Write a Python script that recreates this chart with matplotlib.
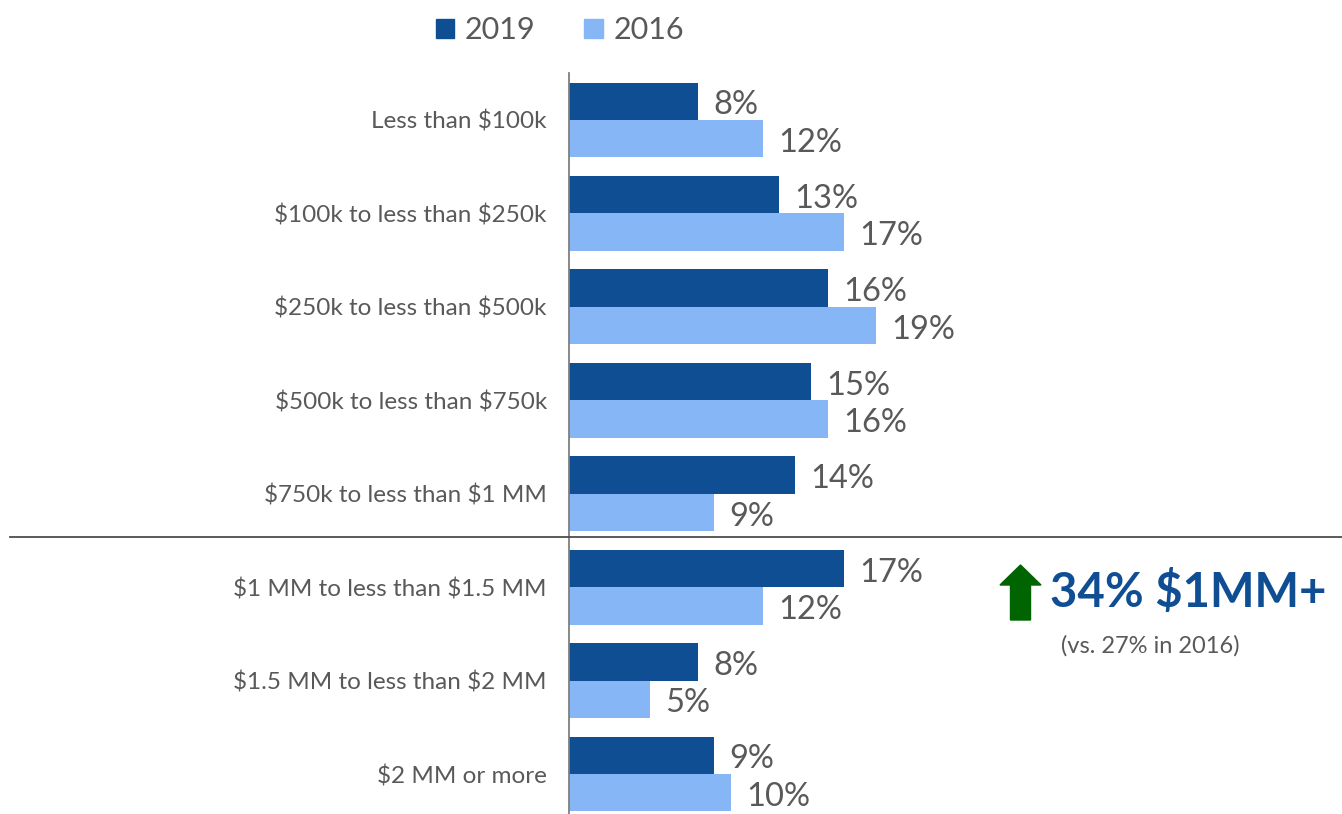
import matplotlib
matplotlib.use("Agg")
import matplotlib.pyplot as plt
from matplotlib.patches import Patch, FancyArrow
from matplotlib.lines import Line2D
import numpy as np

plt.rcParams['font.family'] = ['Lato', 'DejaVu Sans']
plt.rcParams['text.parse_math'] = False

categories = ["Less than $100k", "$100k to less than $250k", "$250k to less than $500k",
              "$500k to less than $750k", "$750k to less than $1 MM",
              "$1 MM to less than $1.5 MM", "$1.5 MM to less than $2 MM", "$2 MM or more"]
vals_2019 = [8, 13, 16, 15, 14, 17, 8, 9]
vals_2016 = [12, 17, 19, 16, 9, 12, 5, 10]
series_names = ["2019", "2016"]

c2019 = "#104E93"
c2016 = "#86B6F6"
grey = "#595959"

fig = plt.figure(figsize=(13.42, 8.14), dpi=100)
ax = fig.add_axes([569 / 1342, 0, 404 / 1342, 741 / 814])

y = np.arange(len(categories))
h = 0.4
ax.barh(y - h / 2, vals_2019, height=h, color=c2019)
ax.barh(y + h / 2, vals_2016, height=h, color=c2016)

for yi, v in zip(y - h / 2, vals_2019):
    ax.annotate(f"{v}%", (v, yi), xytext=(11, -3), textcoords="offset points",
                va="center", ha="left", fontsize=23.5, color=grey)
for yi, v in zip(y + h / 2, vals_2016):
    ax.annotate(f"{v}%", (v, yi), xytext=(11, -3), textcoords="offset points",
                va="center", ha="left", fontsize=23.5, color=grey)

ax.set_xlim(0, 25)
ax.set_ylim(7.428, -0.503)
ax.set_yticks(y)
ax.set_yticklabels(categories, fontsize=17.5, color=grey)
ax.tick_params(axis="y", length=0, pad=16)
ax.set_xticks([])
for s in ["top", "right", "bottom"]:
    ax.spines[s].set_visible(False)
ax.spines["left"].set_color("#7f7f7f")
ax.spines["left"].set_linewidth(1.3)

# separator between under / over $1MM
fig.add_artist(Line2D([10 / 1342, 1], [(814 - 537) / 814] * 2, color="#4d4d4d", lw=1.3))

handles = [Patch(color=c2019), Patch(color=c2016)]
fig.legend(handles, series_names, loc="center", bbox_to_anchor=(560 / 1342, 1 - 30 / 814),
           ncol=2, frameon=False, fontsize=22, handlelength=0.6, handleheight=0.6,
           handletextpad=0.35, columnspacing=1.6, labelcolor=grey)

# callout
arrow = FancyArrow(10.205, 1.94, 0, 0.55, width=0.2, head_width=0.41, head_length=0.2,
                   length_includes_head=True, color="#006400", transform=fig.dpi_scale_trans)
fig.add_artist(arrow)
fig.text(1050 / 1342, 1 - 592 / 814, "34% $1MM+", fontsize=34, fontweight="bold",
         color=c2019, ha="left", va="center")
fig.text(1150 / 1342, 1 - 646 / 814, "(vs. 27% in 2016)", fontsize=17, color=grey,
         ha="center", va="center")

fig.savefig("out.png", dpi=100)
